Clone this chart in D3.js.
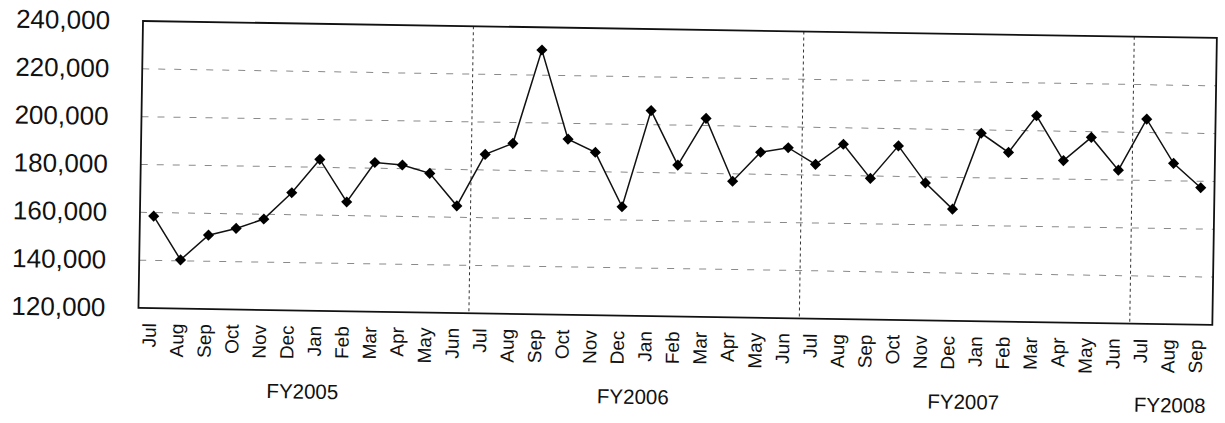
<!DOCTYPE html>
<html>
<head>
<meta charset="utf-8">
<script src="https://cdn.jsdelivr.net/npm/d3@7"></script>
<style>
  body { margin: 0; background: #fff; }
  text { font-family: "Liberation Sans", Arial, sans-serif; fill: #111; }
</style>
</head>
<body>
<script>
'use strict';

// month labels, one per point (Jul 2004 .. Sep 2008)
const months = ["Jul","Aug","Sep","Oct","Nov","Dec","Jan","Feb","Mar","Apr","May","Jun",
                "Jul","Aug","Sep","Oct","Nov","Dec","Jan","Feb","Mar","Apr","May","Jun",
                "Jul","Aug","Sep","Oct","Nov","Dec","Jan","Feb","Mar","Apr","May","Jun",
                "Jul","Aug","Sep"];
// monthly totals
const values = [158500, 140400, 150900, 153900, 158000, 169200, 183300, 165700, 182400, 181500, 178200, 164800,
                186500, 191300, 230500, 193400, 188100, 165500, 205900, 183300, 203000, 176900, 189200, 191300,
                184500, 193100, 179000, 192800, 177500, 166700, 198600, 190800, 206300, 187700, 197600, 184100,
                205600, 187300, 177300];
// fiscal year groups
const fiscalYears = ["FY2005", "FY2006", "FY2007", "FY2008"];
const yearCounts = [12, 12, 12, 3];
const yTicks = [120000, 140000, 160000, 180000, 200000, 220000, 240000];

(function() {
  let svgContainer = "";
  let chart = "";

  const left = 143, right = 1217, top = 21, bottom = 308;

  const xScale = d3.scalePoint()
    .domain(d3.range(values.length))
    .range([left, right])
    .padding(0.5);

  const yScale = d3.scaleLinear()
    .domain([120000, 240000])
    .range([bottom, top]);

  // index of the first month of each fiscal year, plus the end
  const starts = [0].concat(Array.from(d3.cumsum(yearCounts)));

  window.onload = function() {
    svgContainer = d3.select('body')
      .append('svg')
      .attr('width', 1225)
      .attr('height', 423);

    // the scanned page sits slightly tilted
    chart = svgContainer.append('g')
      .attr('transform', 'rotate(0.906,' + left + ',' + top + ')');

    makeGrid();
    makeAxes();
    plotData();
    makeLabels();
  }

  // dashed gridlines and fiscal year separators
  function makeGrid() {
    chart.selectAll('.grid')
      .data(yTicks.slice(1, -1))
      .enter()
      .append('line')
      .attr('x1', left)
      .attr('x2', right)
      .attr('y1', d => yScale(d))
      .attr('y2', d => yScale(d))
      .attr('stroke', '#8a8a8a')
      .attr('stroke-width', 1)
      .style('stroke-dasharray', '7,9');

    let step = xScale.step();
    chart.selectAll('.sep')
      .data(starts.slice(1, -1))
      .enter()
      .append('line')
      .attr('x1', d => xScale(d) - step / 2)
      .attr('x2', d => xScale(d) - step / 2)
      .attr('y1', top)
      .attr('y2', bottom)
      .attr('stroke', '#333')
      .attr('stroke-width', 1)
      .style('stroke-dasharray', '3,3');
  }

  function makeAxes() {
    let yAxis = d3.axisLeft(yScale)
      .tickValues(yTicks)
      .tickSize(0)
      .tickPadding(33)
      .tickFormat(d3.format(','));

    chart.append('g')
      .attr('transform', 'translate(' + left + ',0)')
      .call(yAxis)
      .call(g => g.select('.domain').remove())
      .selectAll('text')
      .style('font-size', '26px')
      .style('font-family', '"Liberation Sans", Arial, sans-serif')
      .attr('fill', '#111');

    let xAxis = d3.axisBottom(xScale)
      .tickSize(0)
      .tickFormat(i => months[i]);

    chart.append('g')
      .attr('transform', 'translate(0,' + bottom + ')')
      .call(xAxis)
      .call(g => g.select('.domain').remove())
      .selectAll('text')
      .style('font-size', '19px')
      .style('font-family', '"Liberation Sans", Arial, sans-serif')
      .attr('fill', '#111')
      .style('text-anchor', 'end')
      .attr('dx', '-15px')
      .attr('dy', '-3px')
      .attr('y', 0)
      .attr('x', 0)
      .attr('transform', 'rotate(-90)')
      .attr('dominant-baseline', 'central');

    // frame
    chart.append('rect')
      .attr('x', left)
      .attr('y', top)
      .attr('width', right - left)
      .attr('height', bottom - top)
      .attr('fill', 'none')
      .attr('stroke', '#111')
      .attr('stroke-width', 1.8);
  }

  function plotData() {
    let line = d3.line()
      .x((d, i) => xScale(i))
      .y(d => yScale(d));

    chart.append('path')
      .datum(values)
      .attr('d', line)
      .attr('fill', 'none')
      .attr('stroke', '#111')
      .attr('stroke-width', 1.5);

    chart.selectAll('.dot')
      .data(values)
      .enter()
      .append('path')
      .attr('d', d3.symbol(d3.symbolSquare, 62))
      .attr('transform', (d, i) => 'translate(' + xScale(i) + ',' + yScale(d) + ')rotate(45)')
      .attr('fill', '#000');
  }

  // fiscal year labels under each group of months
  function makeLabels() {
    chart.selectAll('.fy')
      .data(fiscalYears)
      .enter()
      .append('text')
      .attr('x', (d, i) => (xScale(starts[i]) + xScale(starts[i + 1] - 1)) / 2)
      .attr('y', 396)
      .style('font-size', '20.5px')
      .style('text-anchor', 'middle')
      .text(d => d);
  }
})();
</script>
</body>
</html>
